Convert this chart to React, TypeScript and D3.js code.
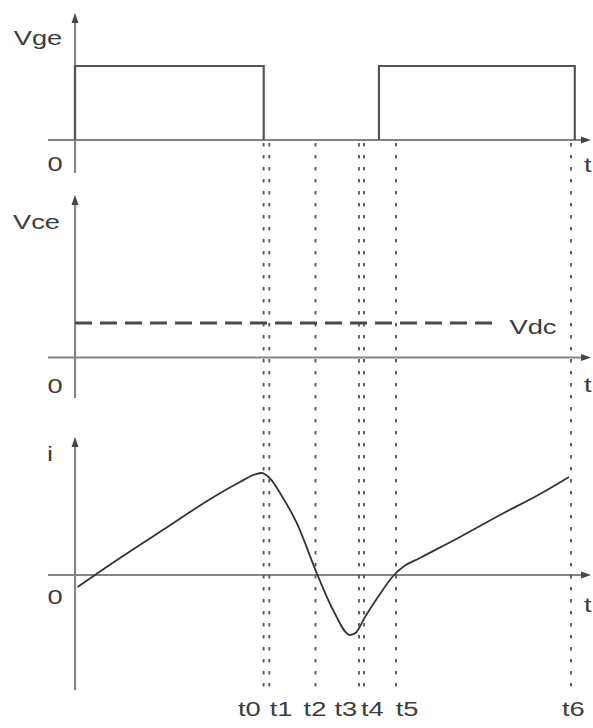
import React from "react";
import * as d3 from "d3";

// Switching instants (arbitrary time units, 0..100 across the time axis)
const instantLabels = ["t0", "t1", "t2", "t3", "t4", "t5", "t6"];
const instantTimes = [36.98, 38.1, 47.16, 55.69, 56.67, 62.94, 97.25];
const instantLabelTimes = [34.2, 40.4, 47.06, 53.1, 58.3, 65.1, 97.7];

// Gate-emitter voltage: on-intervals of the gate pulse (normalised level 1)
const gateOnStarts = [0, 59.6];
const gateOnEnds = [37.0, 98.0];
const gateHigh = 1;

// Collector-emitter DC level
const vdcLevel = 1;
const vdcEndTime = 82.35;

// Load current (normalised to its peak)
const currentTimes = [
  0.49, 8.82, 17.84, 26.86, 32.35, 35.49, 36.67, 37.45, 38.24, 40.2, 43.47,
  47.55, 50.6, 53.92, 55.0, 56.86, 59.4, 62.55, 64.3, 67.65, 75.49, 83.33,
  91.18, 96.86,
];
const currentValues = [
  -0.118, 0.167, 0.461, 0.755, 0.912, 0.99, 1.0, 0.98, 0.948, 0.804, 0.51, 0,
  -0.343, -0.588, -0.569, -0.412, -0.216, 0, 0.078, 0.167, 0.373, 0.588,
  0.794, 0.961,
];

const W = 593;
const H = 728;
const FONT = "'Liberation Sans', Arial, Helvetica, sans-serif";
const AXIS = "#858585";
const INK = "#3c3c3c";

const x = d3.scaleLinear().domain([0, 100]).range([75, 585]);

const panels = [
  { key: "vge", y: d3.scaleLinear().domain([0, 1]).range([140, 66]), top: 13, bottom: 173 },
  { key: "vce", y: d3.scaleLinear().domain([0, 1]).range([357.5, 323]), top: 195, bottom: 398 },
  { key: "i", y: d3.scaleLinear().domain([0, 1]).range([575, 473]), top: 437, bottom: 690 },
];

function Label({ x: lx, y: ly, text, anchor = "middle" }: { x: number; y: number; text: string; anchor?: string }) {
  return (
    <text
      transform={`translate(${lx},${ly}) scale(1.3,1)`}
      textAnchor={anchor}
      fontFamily={FONT}
      fontSize={21}
      fill={INK}
    >
      {text}
    </text>
  );
}

function Axes({ yScale, top, bottom }: { yScale: d3.ScaleLinear<number, number>; top: number; bottom: number }) {
  const x0 = x(0);
  const y0 = yScale(0);
  const tipX = 591;
  return (
    <g>
      <line x1={48} x2={tipX - 6} y1={y0} y2={y0} stroke={AXIS} strokeWidth={2.2} />
      <path d={`M${tipX},${y0} L${tipX - 10},${y0 - 3.5} L${tipX - 10},${y0 + 3.5} Z`} fill="#444" />
      <line x1={x0} x2={x0} y1={top + 6} y2={bottom} stroke={AXIS} strokeWidth={2.2} />
      <path d={`M${x0},${top} L${x0 - 3.5},${top + 10} L${x0 + 3.5},${top + 10} Z`} fill="#444" />
    </g>
  );
}

export default function App() {
  const [pv, pc, pi] = panels;

  const gateLine = d3
    .line<[number, number]>()
    .x((d) => x(d[0]))
    .y((d) => pv.y(d[1]));

  const currentLine = d3
    .line<number>()
    .x((_, k) => x(currentTimes[k]))
    .y((v) => pi.y(v))
    .curve(d3.curveMonotoneX);

  return (
    <div style={{ position: "fixed", left: 0, top: 0, width: W, height: H, background: "#fff" }}>
      <svg width={W} height={H} viewBox={`0 0 ${W} ${H}`} style={{ display: "block" }}>
        <rect width={W} height={H} fill="#fff" />

        {panels.map((p) => (
          <Axes key={p.key} yScale={p.y} top={p.top} bottom={p.bottom} />
        ))}

        {/* switching instants */}
        {instantTimes.map((t, k) => (
          <line
            key={instantLabels[k]}
            x1={x(t)}
            x2={x(t)}
            y1={143}
            y2={688}
            stroke="#555"
            strokeWidth={1.8}
            strokeDasharray="3.5 8.5"
          />
        ))}

        {/* gate voltage pulses */}
        {gateOnStarts.map((s, k) => (
          <path
            key={`pulse-${k}`}
            d={
              gateLine([
                [s, 0],
                [s, gateHigh],
                [gateOnEnds[k], gateHigh],
                [gateOnEnds[k], 0],
              ]) ?? ""
            }
            fill="none"
            stroke="#555"
            strokeWidth={2.2}
          />
        ))}

        {/* DC bus level */}
        <line
          x1={x(0)}
          x2={x(vdcEndTime)}
          y1={pc.y(vdcLevel)}
          y2={pc.y(vdcLevel)}
          stroke="#4a4a4a"
          strokeWidth={3}
          strokeDasharray="17 8"
        />

        {/* current */}
        <path d={currentLine(currentValues) ?? ""} fill="none" stroke="#333" strokeWidth={1.8} />

        {/* axis titles and origin marks */}
        <Label x={38} y={45} text="Vge" />
        <Label x={55} y={171} text="0" />
        <Label x={584} y={172} text="t" anchor="start" />

        <Label x={36.5} y={229} text="Vce" />
        <Label x={533} y={334} text="Vdc" />
        <Label x={55} y={393} text="0" />
        <Label x={584} y={392} text="t" anchor="start" />

        <Label x={50} y={461} text="i" />
        <Label x={55} y={604} text="0" />
        <Label x={584} y={612} text="t" anchor="start" />

        {instantLabels.map((lab, k) => (
          <Label key={lab} x={x(instantLabelTimes[k])} y={716} text={lab} />
        ))}
      </svg>
    </div>
  );
}
